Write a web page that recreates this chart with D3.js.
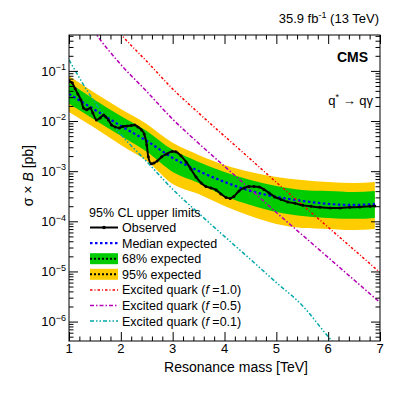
<!DOCTYPE html>
<html>
<head>
<meta charset="utf-8">
<script src="https://cdn.jsdelivr.net/npm/d3@7"></script>
<style>
  body { margin: 0; background: #fff; }
  svg text { font-family: "Liberation Sans", Arial, Helvetica, sans-serif; fill: #000; }
</style>
</head>
<body>
<div id="chart"></div>
<script>
// excited quark theory cross sections [pb], every 0.5 TeV
const theoryMass = [1.0, 1.5, 2.0, 2.5, 3.0, 3.5, 4.0, 4.5, 5.0, 5.5, 6.0, 6.5, 7.0];
const xsecF10 = [16.6, 2.34, 0.537, 0.155, 0.0437, 0.0145, 5.0e-3, 1.74e-3, 6.0e-4, 2.14e-4, 7.6e-5, 2.7e-5, 9.5e-6];
const xsecF05 = [4.15, 0.585, 0.134, 0.0389, 0.0109, 3.6e-3, 1.25e-3, 4.35e-4, 1.5e-4, 5.35e-5, 1.9e-5, 6.75e-6, 2.4e-6];
const xsecF01 = [0.166, 0.0234, 5.37e-3, 1.55e-3, 4.37e-4, 1.45e-4, 5.0e-5, 1.74e-5, 6.0e-6, 2.1e-6, 5.0e-7, 1.3e-7, 4.0e-8];

// expected limits and bands [pb]
const expMass = [1.0, 1.5, 2.0, 2.5, 3.0, 3.5, 4.0, 4.5, 5.0, 5.5, 6.0, 6.5, 6.9];
const exp95Up = [0.0795, 0.0364, 0.01746, 0.00877, 0.00367, 0.00211, 0.00133, 9.68e-4, 7.69e-4, 6.70e-4, 6.11e-4, 5.83e-4, 6.11e-4];
const exp68Up = [0.0577, 0.0264, 0.01266, 0.00636, 0.00266, 0.00153, 9.68e-4, 6.70e-4, 5.08e-4, 4.23e-4, 4.04e-4, 3.86e-4, 4.04e-4];
const expMedian = [0.0348, 0.01667, 0.0080, 0.00402, 0.00184, 0.00101, 6.11e-4, 4.04e-4, 3.07e-4, 2.55e-4, 2.22e-4, 2.12e-4, 2.22e-4];
const exp68Down = [0.0220, 0.01054, 0.00506, 0.00243, 9.68e-4, 5.83e-4, 3.21e-4, 2.12e-4, 1.54e-4, 1.28e-4, 1.17e-4, 1.12e-4, 1.17e-4];
const exp95Down = [0.0152, 0.0073, 0.00334, 0.0016, 5.57e-4, 3.52e-4, 2.03e-4, 1.28e-4, 8.87e-5, 7.39e-5, 7.06e-5, 6.74e-5, 7.06e-5];

// observed limit [pb]
const obsMass = [1.00, 1.06, 1.12, 1.17, 1.23, 1.28, 1.34, 1.41, 1.46, 1.53, 1.60, 1.67, 1.71, 1.76, 1.82, 1.89,
  1.97, 2.04, 2.12, 2.20, 2.27, 2.33, 2.40, 2.45, 2.50, 2.53, 2.59, 2.64, 2.70, 2.79, 2.89, 2.99, 3.06, 3.16,
  3.26, 3.35, 3.45, 3.55, 3.64, 3.74, 3.84, 3.93, 4.03, 4.11, 4.18, 4.28, 4.38, 4.47, 4.57, 4.67, 4.76, 4.86,
  4.97, 5.09, 5.22, 5.36, 5.51, 5.67, 5.84, 6.04, 6.23, 6.42, 6.61, 6.81, 6.90];
const obsLimit = [0.0632, 0.0577, 0.0438, 0.0348, 0.0264, 0.0183, 0.0167, 0.0183, 0.0145, 0.01054, 0.01156,
  0.01325, 0.0121, 0.01054, 0.00838, 0.00764, 0.0073, 0.00782, 0.0080, 0.00818, 0.00838, 0.00764, 0.00665,
  0.00554, 0.00334, 0.00193, 0.0014, 0.00146, 0.0016, 0.00193, 0.00221, 0.00248, 0.00243, 0.00202, 0.00153,
  0.00111, 7.69e-4, 5.83e-4, 4.97e-4, 4.63e-4, 4.23e-4, 3.52e-4, 3.0e-4, 2.86e-4, 3.14e-4, 4.04e-4, 4.63e-4,
  4.97e-4, 4.97e-4, 4.85e-4, 4.33e-4, 3.69e-4, 3.07e-4, 2.73e-4, 2.44e-4, 2.28e-4, 2.08e-4, 1.99e-4, 1.9e-4,
  1.85e-4, 1.85e-4, 1.9e-4, 1.94e-4, 1.99e-4, 2.03e-4];

const xTickLabels = [1, 2, 3, 4, 5, 6, 7];
const yTickPowers = [-1, -2, -3, -4, -5, -6];

const W = 407, H = 395;
const margin = {top: 35, right: 27, bottom: 54, left: 69};
const plotW = W - margin.left - margin.right;
const plotH = H - margin.top - margin.bottom;

const svg = d3.select("#chart")
  .append("svg")
  .attr("width", W)
  .attr("height", H);

const g = svg.append("g")
  .attr("transform", "translate(" + margin.left + "," + margin.top + ")");

const x = d3.scaleLinear().domain([1, 7]).range([0, plotW]);
const y = d3.scaleLog().domain([4.1e-7, 0.52]).range([plotH, 0]);

g.append("clipPath").attr("id", "clip")
  .append("rect").attr("width", plotW).attr("height", plotH);

const plot = g.append("g").attr("clip-path", "url(#clip)");

// bands
const band = (lo, hi) => d3.area()
  .x((d, i) => x(expMass[i]))
  .y0((d, i) => y(lo[i]))
  .y1((d, i) => y(hi[i]))
  .curve(d3.curveMonotoneX);

plot.append("path").datum(expMass)
  .attr("d", band(exp95Down, exp95Up))
  .attr("fill", "#ffcc00");
plot.append("path").datum(expMass)
  .attr("d", band(exp68Down, exp68Up))
  .attr("fill", "#00cc00");

// median expected
plot.append("path").datum(expMass)
  .attr("d", d3.line().x((d, i) => x(expMass[i])).y((d, i) => y(expMedian[i])).curve(d3.curveMonotoneX))
  .attr("fill", "none")
  .attr("stroke", "#0000ff")
  .attr("stroke-width", 2.2)
  .attr("stroke-dasharray", "2.5,2.5");

// theory lines
const theory = [
  {vals: xsecF10, color: "#ff0000", dash: "2.5,2,1,2"},
  {vals: xsecF05, color: "#b400b4", dash: "4,2,1.5,2"},
  {vals: xsecF01, color: "#00a8a8", dash: "4,2,1.5,2,1.5,2"}
];
theory.forEach(t => {
  plot.append("path").datum(theoryMass)
    .attr("d", d3.line().x(d => x(d)).y((d, i) => y(t.vals[i])).curve(d3.curveMonotoneX))
    .attr("fill", "none")
    .attr("stroke", t.color)
    .attr("stroke-width", 1.5)
    .attr("stroke-dasharray", t.dash);
});

// observed
plot.append("path").datum(obsMass)
  .attr("d", d3.line().x(d => x(d)).y((d, i) => y(obsLimit[i])).curve(d3.curveMonotoneX))
  .attr("fill", "none")
  .attr("stroke", "#000")
  .attr("stroke-width", 2);
plot.append("g").selectAll("circle")
  .data(obsMass)
  .enter()
  .append("circle")
  .attr("cx", d => x(d))
  .attr("cy", (d, i) => y(obsLimit[i]))
  .attr("r", 1.5)
  .attr("fill", "#000");

// axes, ticks inward on all four sides
const xMinor = d3.range(0, 31).map(i => 1 + i * 0.2).filter(v => Math.abs(v - Math.round(v)) > 1e-6);
const yMinor = [];
for (let p = -7; p <= 0; p++) {
  for (let k = 2; k <= 9; k++) {
    const v = k * Math.pow(10, p);
    if (v >= y.domain()[0] && v <= y.domain()[1]) yMinor.push(v);
  }
}
const yMajor = yTickPowers.map(p => Math.pow(10, p));

function tickAxis(axisFn, scale, values, size, transform) {
  g.append("g")
    .attr("transform", transform)
    .call(axisFn(scale).tickValues(values).tickSizeInner(-size).tickSizeOuter(0).tickFormat(""))
    .call(a => a.select(".domain").remove())
    .selectAll("line").attr("stroke", "#000");
}
tickAxis(d3.axisBottom, x, xTickLabels, 9, "translate(0," + plotH + ")");
tickAxis(d3.axisBottom, x, xMinor, 4.5, "translate(0," + plotH + ")");
tickAxis(d3.axisTop, x, xTickLabels, 9, "translate(0,0)");
tickAxis(d3.axisTop, x, xMinor, 4.5, "translate(0,0)");
tickAxis(d3.axisLeft, y, yMajor, 9, "translate(0,0)");
tickAxis(d3.axisLeft, y, yMinor, 4.5, "translate(0,0)");
tickAxis(d3.axisRight, y, yMajor, 9, "translate(" + plotW + ",0)");
tickAxis(d3.axisRight, y, yMinor, 4.5, "translate(" + plotW + ",0)");

g.append("rect")
  .attr("width", plotW)
  .attr("height", plotH)
  .attr("fill", "none")
  .attr("stroke", "#000")
  .attr("stroke-width", 1);

// tick labels
g.append("g").selectAll("text")
  .data(xTickLabels)
  .enter()
  .append("text")
  .attr("x", d => x(d))
  .attr("y", plotH + 12)
  .attr("text-anchor", "middle")
  .style("font-size", "13px")
  .text(d => d);

const yl = g.append("g").selectAll("text")
  .data(yTickPowers)
  .enter()
  .append("text")
  .attr("x", -3)
  .attr("y", d => y(Math.pow(10, d)) + 4.7)
  .attr("text-anchor", "end")
  .style("font-size", "13px");
yl.append("tspan").text("10");
yl.append("tspan").attr("dy", -5.5).style("font-size", "9px").text(d => "\u2212" + Math.abs(d));

// axis titles
svg.append("text")
  .attr("x", 308)
  .attr("y", 372)
  .attr("text-anchor", "end")
  .style("font-size", "14px")
  .text("Resonance mass [TeV]");

const yt = svg.append("text")
  .attr("transform", "translate(33,145) rotate(-90)")
  .attr("text-anchor", "end")
  .style("font-size", "14px");
yt.append("tspan").text("\u03c3 \u00d7 ");
yt.append("tspan").style("font-style", "italic").text("B");
yt.append("tspan").text(" [pb]");

// top labels
const lumi = svg.append("text")
  .attr("x", 379)
  .attr("y", 23)
  .attr("text-anchor", "end")
  .style("font-size", "13px");
lumi.append("tspan").text("35.9 fb");
lumi.append("tspan").attr("dy", -5).style("font-size", "9px").text("-1");
lumi.append("tspan").attr("dy", 5).text(" (13 TeV)");

svg.append("text")
  .attr("x", 368)
  .attr("y", 62)
  .attr("text-anchor", "end")
  .style("font-size", "14px")
  .style("font-weight", "bold")
  .text("CMS");

const proc = svg.append("text")
  .attr("x", 373)
  .attr("y", 105)
  .attr("text-anchor", "end")
  .style("font-size", "13px");
proc.append("tspan").text("q");
proc.append("tspan").attr("dy", -5).style("font-size", "9px").text("*");
proc.append("tspan").attr("dy", 5).text(" \u2192 q\u03b3");

// legend
const lx0 = 90, lx1 = 118, ltx = 122;
svg.append("text")
  .attr("x", 89)
  .attr("y", 217)
  .style("font-size", "12.5px")
  .text("95% CL upper limits");

const legend = [
  {type: "obs", label: "Observed"},
  {type: "median", label: "Median expected"},
  {type: "band", fill: "#00cc00", label: "68% expected"},
  {type: "band", fill: "#ffcc00", label: "95% expected"},
  {type: "theory", idx: 0, f: "1.0"},
  {type: "theory", idx: 1, f: "0.5"},
  {type: "theory", idx: 2, f: "0.1"}
];
legend.forEach((e, i) => {
  const cy = 227.5 + i * 15.6;
  if (e.type === "band") {
    svg.append("rect").attr("x", lx0).attr("y", cy - 5.5).attr("width", lx1 - lx0).attr("height", 11).attr("fill", e.fill);
    svg.append("line").attr("x1", lx0).attr("x2", lx1).attr("y1", cy).attr("y2", cy)
      .attr("stroke", "#000").attr("stroke-width", 2).attr("stroke-dasharray", "2,2");
  } else if (e.type === "median") {
    svg.append("line").attr("x1", lx0).attr("x2", lx1).attr("y1", cy).attr("y2", cy)
      .attr("stroke", "#0000ff").attr("stroke-width", 2.2).attr("stroke-dasharray", "2.5,2.5");
  } else if (e.type === "obs") {
    svg.append("line").attr("x1", lx0).attr("x2", lx1).attr("y1", cy).attr("y2", cy)
      .attr("stroke", "#000").attr("stroke-width", 2);
    svg.append("circle").attr("cx", (lx0 + lx1) / 2).attr("cy", cy).attr("r", 1.8).attr("fill", "#000");
  } else {
    const t = theory[e.idx];
    svg.append("line").attr("x1", lx0).attr("x2", lx1).attr("y1", cy).attr("y2", cy)
      .attr("stroke", t.color).attr("stroke-width", 1.5).attr("stroke-dasharray", t.dash);
  }
  const txt = svg.append("text")
    .attr("x", ltx)
    .attr("y", cy + 4.5)
    .style("font-size", "12.5px");
  if (e.type === "theory") {
    txt.append("tspan").text("Excited quark (");
    txt.append("tspan").style("font-style", "italic").text("f");
    txt.append("tspan").text(" =" + e.f + ")");
  } else {
    txt.text(e.label);
  }
});
</script>
</body>
</html>
